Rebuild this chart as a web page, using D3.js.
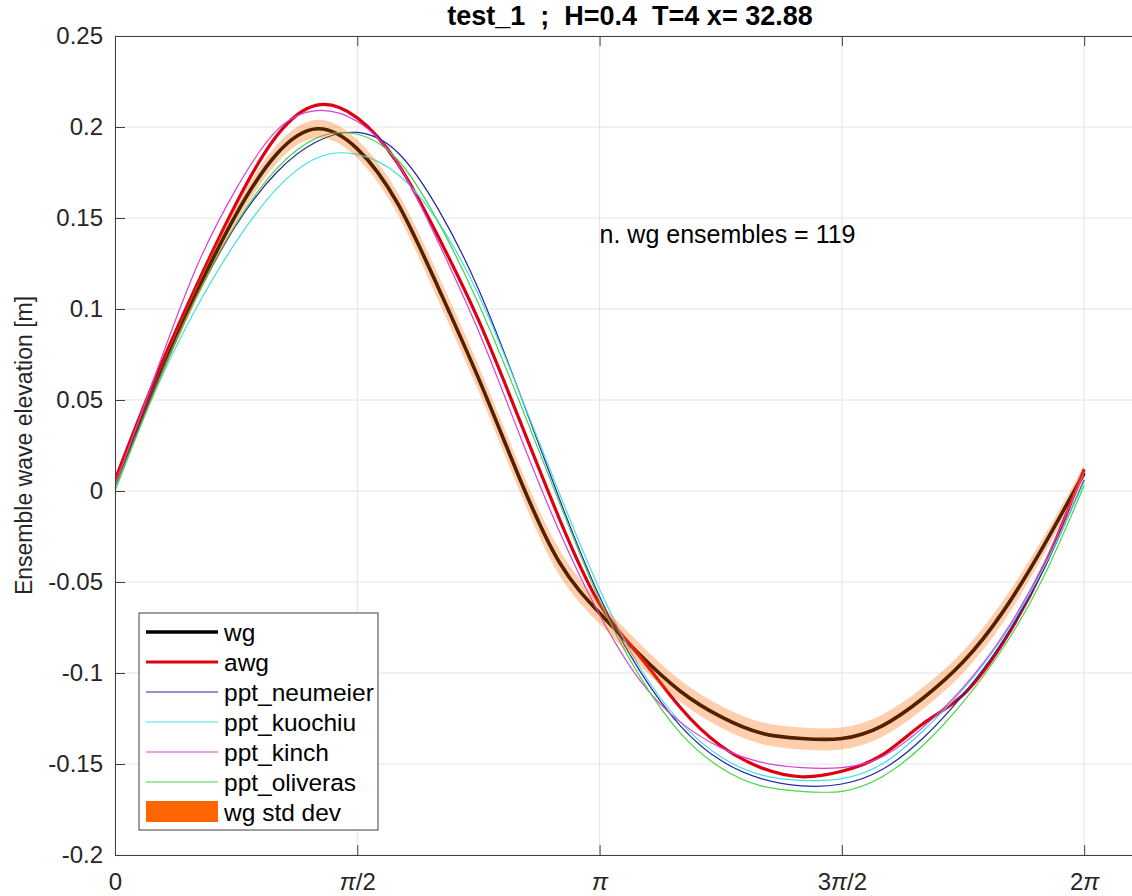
<!DOCTYPE html>
<html>
<head>
<meta charset="utf-8">
<script src="https://cdn.jsdelivr.net/npm/d3@7"></script>
<style>
body { margin: 0; background: #fff; }
svg { font-family: "Liberation Sans", Arial, sans-serif; display: block; }
.axis path, .axis line { stroke: #404040; }
.axis text { font-size: 24px; fill: #262626; }
.grid line { stroke: #e4e4e4; stroke-width: 1; }
</style>
</head>
<body>
<svg id="wave_svg" width="1132" height="896"></svg>
<script>
// phase in degrees (0 .. 2pi)
var phaseDeg = [0, 15, 30, 45, 60, 75, 90, 105, 120, 135, 150, 165, 180,
                195, 210, 225, 240, 255, 270, 285, 300, 315, 330, 345, 360];

var wg       = [0.004, 0.058, 0.108, 0.152, 0.185, 0.199, 0.188, 0.158, 0.112, 0.062, 0.008, -0.039, -0.067,
                -0.090, -0.110, -0.124, -0.133, -0.136, -0.136, -0.129, -0.114, -0.094, -0.066, -0.030, 0.010];
var wgStd    = [0.002, 0.003, 0.004, 0.005, 0.005, 0.005, 0.005, 0.006, 0.007, 0.007, 0.007, 0.007, 0.006,
                0.006, 0.006, 0.006, 0.006, 0.006, 0.006, 0.006, 0.006, 0.006, 0.006, 0.005, 0.004];
var awg      = [0.006, 0.062, 0.112, 0.158, 0.195, 0.212, 0.205, 0.180, 0.140, 0.094, 0.040, -0.015, -0.062,
                -0.091, -0.119, -0.140, -0.152, -0.157, -0.154, -0.145, -0.128, -0.112, -0.083, -0.042, 0.012];
var neumeier = [0.002, 0.058, 0.106, 0.146, 0.175, 0.192, 0.197, 0.186, 0.155, 0.111, 0.055, -0.004, -0.058,
                -0.099, -0.129, -0.148, -0.158, -0.162, -0.161, -0.153, -0.136, -0.112, -0.082, -0.043, 0.006];
var kuochiu  = [0.001, 0.055, 0.100, 0.137, 0.166, 0.183, 0.185, 0.174, 0.148, 0.108, 0.055, -0.001, -0.054,
                -0.097, -0.127, -0.146, -0.156, -0.159, -0.158, -0.150, -0.132, -0.109, -0.080, -0.042, 0.005];
var kinch    = [0.003, 0.064, 0.122, 0.166, 0.198, 0.209, 0.203, 0.180, 0.137, 0.088, 0.032, -0.022, -0.068,
                -0.104, -0.127, -0.141, -0.149, -0.152, -0.152, -0.146, -0.130, -0.108, -0.079, -0.040, 0.010];
var oliveras = [0.000, 0.056, 0.106, 0.147, 0.177, 0.194, 0.196, 0.182, 0.148, 0.103, 0.050, -0.006, -0.060,
                -0.102, -0.133, -0.152, -0.162, -0.165, -0.165, -0.157, -0.140, -0.116, -0.086, -0.047, 0.003];

var xTicks = [0, 90, 180, 270, 360];
var xTickLabels = ["0", "π/2", "π", "3π/2", "2π"];
var yTicks = [-0.2, -0.15, -0.1, -0.05, 0, 0.05, 0.1, 0.15, 0.2, 0.25];
var yTickLabels = ["-0.2", "-0.15", "-0.1", "-0.05", "0", "0.05", "0.1", "0.15", "0.2", "0.25"];

var series = [
    {name: "wg", values: wg, color: "#000000", width: 3.6},
    {name: "awg", values: awg, color: "#dd0010", width: 3.2},
    {name: "ppt_neumeier", values: neumeier, color: "#2222aa", width: 1.2},
    {name: "ppt_kuochiu", values: kuochiu, color: "#44e0e0", width: 1.2},
    {name: "ppt_kinch", values: kinch, color: "#d640d6", width: 1.2},
    {name: "ppt_oliveras", values: oliveras, color: "#44d844", width: 1.2}
];

var svg = d3.select("#wave_svg"),
    margin = {top: 36, left: 115},
    width = 1030,
    height = 819,
    g = svg.append("g").attr("transform", "translate(" + margin.left + "," + margin.top + ")");

var x = d3.scaleLinear().domain([0, 382.6]).range([0, width]);
var y = d3.scaleLinear().domain([-0.2, 0.25]).range([height, 0]);

// grid
var grid = g.append("g").attr("class", "grid");
grid.selectAll(".gx").data(xTicks).enter().append("line")
    .attr("x1", function(d) { return x(d); }).attr("x2", function(d) { return x(d); })
    .attr("y1", 0).attr("y2", height);
grid.selectAll(".gy").data(yTicks).enter().append("line")
    .attr("x1", 0).attr("x2", width)
    .attr("y1", function(d) { return y(d); }).attr("y2", function(d) { return y(d); });

svg.append("clipPath").attr("id", "plot_clip")
    .append("rect").attr("width", width).attr("height", height);

var plot = g.append("g").attr("clip-path", "url(#plot_clip)");

var line = function(vals) {
    return d3.line()
        .x(function(d, i) { return x(phaseDeg[i]); })
        .y(function(d) { return y(d); })
        .curve(d3.curveNatural)(vals);
};

plot.selectAll(".series")
    .data(series)
    .enter()
    .append("path")
    .attr("class", "series")
    .attr("fill", "none")
    .attr("stroke", function(d) { return d.color; })
    .attr("stroke-width", function(d) { return d.width; })
    .attr("d", function(d) { return line(d.values); });

var band = d3.area()
    .x(function(d, i) { return x(phaseDeg[i]); })
    .y0(function(d, i) { return y(wg[i] - wgStd[i]); })
    .y1(function(d, i) { return y(wg[i] + wgStd[i]); })
    .curve(d3.curveNatural);

plot.append("path")
    .attr("fill", "#ff6600")
    .attr("fill-opacity", 0.32)
    .attr("d", band(wg));

// axes
g.append("g")
    .attr("class", "axis axis--x")
    .attr("transform", "translate(0," + height + ")")
    .call(d3.axisBottom(x).tickValues(xTicks).tickSize(-10).tickSizeOuter(0).tickPadding(18)
        .tickFormat(function(d, i) { return xTickLabels[i]; }))
    .selectAll("text")
    .each(function(d, i) {
        var t = d3.select(this);
        t.text(null);
        xTickLabels[i].split(/(π)/).forEach(function(p) {
            if (!p) return;
            t.append("tspan").style("font-style", p === "π" ? "italic" : null).text(p);
        });
    });

g.append("g")
    .attr("class", "axis axis--top")
    .call(d3.axisTop(x).tickValues(xTicks).tickSize(-10).tickSizeOuter(0).tickFormat(""));

g.append("g")
    .attr("class", "axis axis--y")
    .call(d3.axisLeft(y).tickValues(yTicks).tickSize(-10).tickSizeOuter(0).tickPadding(12)
        .tickFormat(function(d, i) { return yTickLabels[i]; }));

g.append("g")
    .attr("class", "axis axis--right")
    .attr("transform", "translate(" + width + ",0)")
    .call(d3.axisRight(y).tickValues(yTicks).tickSize(-10).tickSizeOuter(0).tickFormat(""));

// title and labels
svg.append("text")
    .attr("x", margin.left + width / 2)
    .attr("y", 25)
    .attr("text-anchor", "middle")
    .style("font-size", "27px")
    .style("font-weight", "bold")
    .style("white-space", "pre")
    .attr("fill", "#000")
    .text("test_1  ;  H=0.4  T=4 x= 32.88");

svg.append("text")
    .attr("transform", "translate(32," + (margin.top + height / 2) + ") rotate(-90)")
    .attr("text-anchor", "middle")
    .style("font-size", "23px")
    .attr("fill", "#262626")
    .text("Ensemble wave elevation [m]");

g.append("text")
    .attr("x", x(180))
    .attr("y", y(0.1362))
    .style("font-size", "25px")
    .attr("fill", "#000")
    .text("n. wg ensembles = 119");

// legend
var legend = svg.append("g").attr("transform", "translate(139,613)");
legend.append("rect")
    .attr("width", 239).attr("height", 217)
    .attr("fill", "#fff").attr("stroke", "#404040").attr("stroke-width", 1);

var items = legend.selectAll(".item")
    .data(series)
    .enter()
    .append("g")
    .attr("class", "item")
    .attr("transform", function(d, i) { return "translate(0," + (19 + i * 30) + ")"; });

items.append("line")
    .attr("x1", 7).attr("x2", 79)
    .attr("stroke", function(d) { return d.color; })
    .attr("stroke-width", function(d) { return d.width; });

items.append("text")
    .attr("x", 85).attr("dy", "0.35em")
    .style("font-size", "24.5px")
    .attr("fill", "#000")
    .text(function(d) { return d.name; });

legend.append("rect")
    .attr("x", 7).attr("y", 188).attr("width", 72).attr("height", 21)
    .attr("fill", "#ff6600");
legend.append("text")
    .attr("x", 85).attr("y", 199).attr("dy", "0.35em")
    .style("font-size", "24.5px")
    .attr("fill", "#000")
    .text("wg std dev");
</script>
</body>
</html>
